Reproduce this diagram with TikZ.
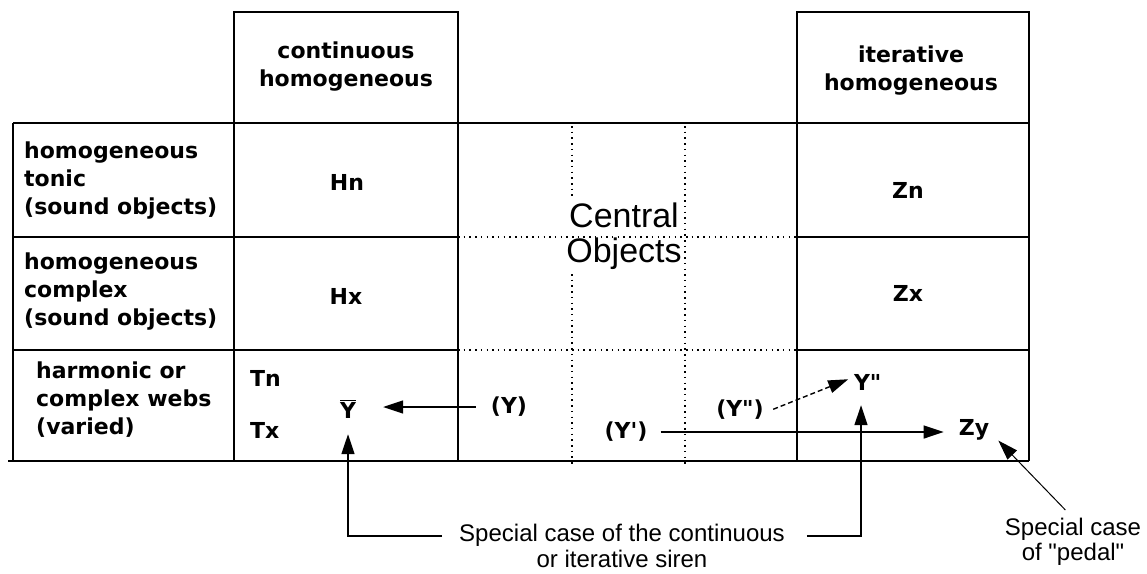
\documentclass[tikz,border=0pt]{standalone}
\usepackage{fontspec}
\newfontfamily\djv{DejaVu Sans}
\newfontfamily\libsans{Liberation Sans}
\usetikzlibrary{arrows.meta}
\begin{document}
\begin{tikzpicture}[x=1pt,y=-1pt,
  grid/.style={line width=1.6pt},
  dots/.style={line width=1.5pt, dash pattern=on 1.5pt off 4.2pt},
  lbl/.style={font=\djv\fontsize{22}{28}\selectfont\bfseries, inner sep=0pt, align=left},
  cell/.style={font=\djv\fontsize{22}{28}\selectfont\bfseries, inner sep=0pt, align=center},
  note/.style={font=\libsans\fontsize{24}{25.5}\selectfont, inner sep=0pt, align=center},
  big/.style={font=\libsans\fontsize{34}{35}\selectfont, inner sep=0pt, align=center},
  arr/.style={line width=1.4pt, -{Triangle[length=20pt,width=13pt]}},
  thinarr/.style={line width=1pt, -{Triangle[length=20pt,width=13pt]}},
]
\useasboundingbox (0,0) rectangle (1147,573);
% table
\draw[grid] (234,12) rectangle (458,123);
\draw[grid] (797,12) rectangle (1029,123);
\draw[grid] (13,123) -- (1029,123);
\draw[grid] (13,237) -- (458,237) (797,237) -- (1029,237);
\draw[grid] (13,350) -- (458,350) (797,350) -- (1029,350);
\draw[grid] (8,461) -- (1029,461);
\draw[grid] (13,123) -- (13,461);
\draw[grid] (234,123) -- (234,461);
\draw[grid] (458,123) -- (458,461);
\draw[grid] (797,123) -- (797,461);
\draw[grid] (1029,123) -- (1029,461);
\draw[dots] (458,237) -- (797,237);
\draw[dots] (458,350) -- (797,350);
\draw[dots] (572,126) -- (572,200) (572,274) -- (572,466);
\draw[dots] (685,126) -- (685,466);
% headers
\node[cell] (hc) at (346,67) {continuous\\homogeneous};
\node[cell] (hi) at (911,71) {iterative\\homogeneous};
% row labels
\node[lbl, anchor=west] (r1) at (24,181) {homogeneous\\tonic\\(sound objects)};
\node[lbl, anchor=west] (r2) at (24,292) {homogeneous\\complex\\(sound objects)};
\node[lbl, anchor=west] (r3) at (36,400) {harmonic or\\complex webs\\(varied)};
% cells
\node[cell] (hn) at (347,182) {Hn};
\node[cell] (hx) at (346,296) {Hx};
\node[cell] (zn) at (908,190) {Zn};
\node[cell] (zx) at (908,293) {Zx};
\node[cell, anchor=west] (tn) at (250,378) {Tn};
\node[cell, anchor=west] (tx) at (250,430) {Tx};
\node[cell, anchor=base] (ybar) at (348,418) {$\overline{\mbox{Y}}$};
\node[cell] (yp) at (509,407) {(Y)};
\node[cell] (ypr) at (626,432) {(Y')};
\node[cell] (ydq) at (740,410) {(Y")};
\node[cell] (ypp) at (862,382) {Y\rlap{"}};
\node[cell] (zy) at (974,430) {Zy};
% central
\node[big] (central) at (624,236) {Central\\Objects};
% notes
\node[note] (siren) at (622,546) {Special case of the continuous\\or iterative siren};
\node[note] (pedal) at (1073,542) {Special case\\of "pedal"};
\coordinate (kneeL) at (348,536);
\coordinate (kneeR) at (861,536);
% connectors
\draw[arr, shorten <=15pt, shorten >=27pt] (yp.west) -- (yp.west -| ybar.east);
\draw[arr, shorten >=16pt] ([xshift=-17pt]siren.west |- kneeL) -- (kneeL) -- (ybar.south);
\draw[arr, shorten >=15pt] ([xshift=22pt]siren.east |- kneeR) -- (kneeR) -- (ypp.south -| kneeR);
\draw[arr, dash pattern=on 5pt off 3pt, shorten <=10pt, shorten >=6pt] ([yshift=-3]ydq.east) -- ([yshift=5]ypp.west);
\draw[arr, shorten <=13pt, shorten >=15pt] (ypr.east) -- (ypr.east -| zy.west);
\draw[thinarr, shorten <=11pt] (pedal.north) -- ([shift={(9,0)}]zy.south east);
\end{tikzpicture}
\end{document}
